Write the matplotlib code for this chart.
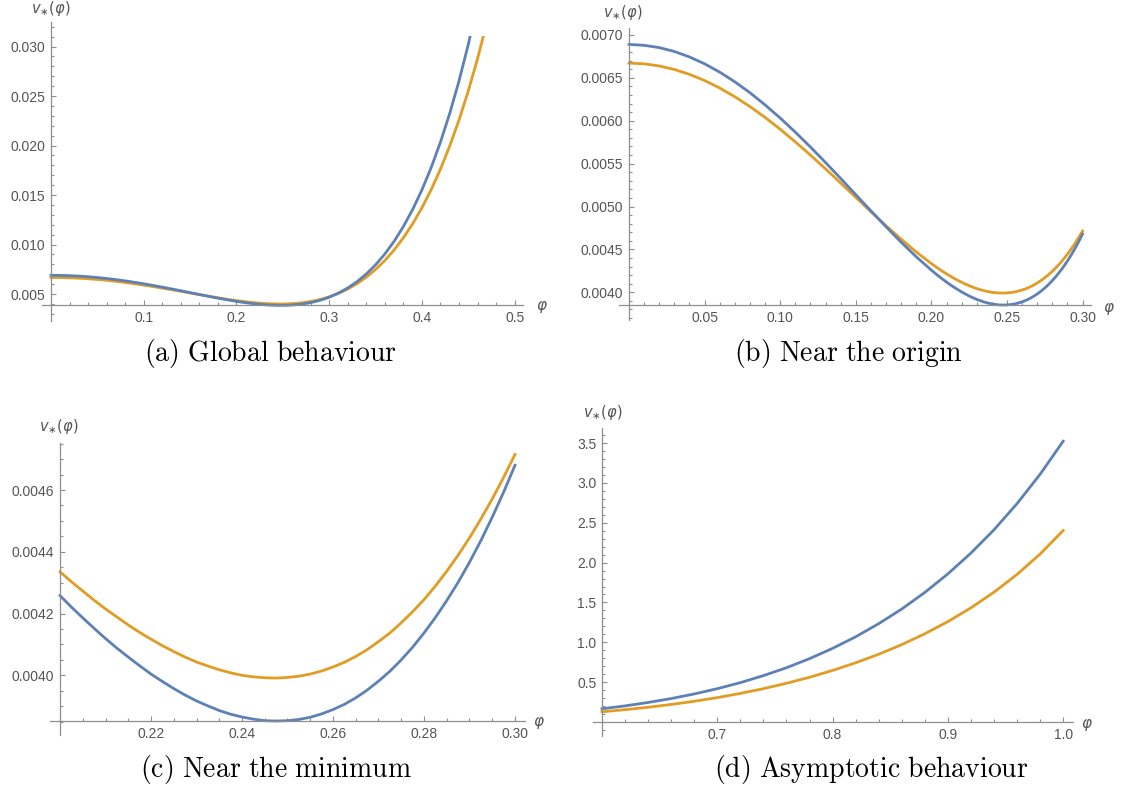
import numpy as np
import matplotlib
matplotlib.use('Agg')
import matplotlib.pyplot as plt
from matplotlib.ticker import MultipleLocator, FixedLocator, FixedFormatter
from matplotlib.patches import Rectangle

plt.rcParams['font.family'] = ['Liberation Sans', 'DejaVu Sans']

# ---------------- data ----------------
phi_main = [0.00, 0.01, 0.02, 0.03, 0.04, 0.05, 0.06, 0.07, 0.08, 0.09,
            0.10, 0.11, 0.12, 0.13, 0.14, 0.15, 0.16, 0.17, 0.18, 0.19,
            0.2000, 0.2025, 0.2050, 0.2075, 0.2100, 0.2125, 0.2150, 0.2175, 0.2200, 0.2225,
            0.2250, 0.2275, 0.2300, 0.2325, 0.2350, 0.2375, 0.2400, 0.2425, 0.2450, 0.2475,
            0.2500, 0.2525, 0.2550, 0.2575, 0.2600, 0.2625, 0.2650, 0.2675, 0.2700, 0.2725,
            0.2750, 0.2775, 0.2800, 0.2825, 0.2850, 0.2875, 0.2900, 0.2925, 0.2950, 0.2975,
            0.30, 0.31, 0.32, 0.33, 0.34, 0.35, 0.36, 0.37, 0.38, 0.39,
            0.40, 0.41, 0.42, 0.43, 0.44, 0.45, 0.46, 0.47]

# v_*(phi) in units of 1e-6
blue_main_e6 = [6890, 6880, 6853, 6808, 6744, 6664, 6567, 6454, 6327, 6185,
                6032, 5867, 5694, 5513, 5327, 5138, 4950, 4764, 4584, 4414,
                4258, 4221, 4186, 4152, 4119, 4088, 4059, 4031, 4004, 3980,
                3957, 3936, 3917, 3901, 3886, 3874, 3865, 3858, 3853, 3852,
                3853, 3857, 3864, 3875, 3889, 3906, 3927, 3952, 3981, 4013,
                4050, 4091, 4137, 4187, 4242, 4301, 4366, 4436, 4512, 4593,
                4680, 5089, 5606, 6244, 7018, 7943, 9038, 10321, 11813, 13536,
                15514, 17773, 20341, 23248, 26527, 30211, 34340, 38951]
orange_main_e6 = [6672, 6664, 6639, 6598, 6541, 6469, 6382, 6280, 6166, 6039,
                  5901, 5754, 5600, 5439, 5274, 5107, 4940, 4776, 4619, 4470,
                  4335, 4303, 4273, 4243, 4215, 4189, 4163, 4139, 4117, 4096,
                  4077, 4059, 4043, 4030, 4018, 4008, 4000, 3995, 3992, 3991,
                  3993, 3997, 4004, 4014, 4027, 4042, 4061, 4083, 4109, 4137,
                  4170, 4206, 4245, 4289, 4337, 4389, 4445, 4506, 4571, 4641,
                  4715, 5066, 5505, 6045, 6697, 7472, 8384, 9448, 10678, 12092,
                  13706, 15541, 17616, 19953, 22576, 25508, 28775, 32407]

phi_tail = [0.60, 0.62, 0.64, 0.66, 0.68, 0.70, 0.72, 0.74, 0.76, 0.78, 0.80,
            0.82, 0.84, 0.86, 0.88, 0.90, 0.92, 0.94, 0.96, 0.98, 1.00]
blue_tail = [0.166, 0.202, 0.245, 0.294, 0.352, 0.418, 0.494, 0.582, 0.681, 0.795, 0.924,
             1.069, 1.234, 1.418, 1.626, 1.859, 2.120, 2.412, 2.741, 3.109, 3.523]
orange_tail = [0.128, 0.155, 0.185, 0.220, 0.260, 0.306, 0.359, 0.418, 0.486, 0.561, 0.647,
               0.743, 0.850, 0.971, 1.107, 1.260, 1.433, 1.629, 1.852, 2.108, 2.403]

captions = ['(a) Global behaviour', '(b) Near the origin', '(c) Near the minimum', '(d) Asymptotic behaviour']

xt_a = [0.1, 0.2, 0.3, 0.4, 0.5]; xl_a = ['0.1', '0.2', '0.3', '0.4', '0.5']
yt_a = [0.005, 0.010, 0.015, 0.020, 0.025, 0.030]; yl_a = ['0.005', '0.010', '0.015', '0.020', '0.025', '0.030']
xt_b = [0.05, 0.10, 0.15, 0.20, 0.25, 0.30]; xl_b = ['0.05', '0.10', '0.15', '0.20', '0.25', '0.30']
yt_b = [0.0040, 0.0045, 0.0050, 0.0055, 0.0060, 0.0065, 0.0070]
yl_b = ['0.0040', '0.0045', '0.0050', '0.0055', '0.0060', '0.0065', '0.0070']
xt_c = [0.22, 0.24, 0.26, 0.28, 0.30]; xl_c = ['0.22', '0.24', '0.26', '0.28', '0.30']
yt_c = [0.0040, 0.0042, 0.0044, 0.0046]; yl_c = ['0.0040', '0.0042', '0.0044', '0.0046']
xt_d = [0.7, 0.8, 0.9, 1.0]; xl_d = ['0.7', '0.8', '0.9', '1.0']
yt_d = [0.5, 1.0, 1.5, 2.0, 2.5, 3.0, 3.5]; yl_d = ['0.5', '1.0', '1.5', '2.0', '2.5', '3.0', '3.5']

# ---------------- style ----------------
BLUE = '#5E81B5'
ORANGE = '#E19C24'
AXC = '#8f8f8f'
TXC = '#555555'

x = np.array(phi_main)
vb = np.array(blue_main_e6) * 1e-6
vo = np.array(orange_main_e6) * 1e-6

fig = plt.figure(figsize=(11.26, 7.92), dpi=100)
W, H = 1126, 792


def make_ax(l, r, t, b, xlim, ylim, xsp, ysp):
    ax = fig.add_axes([l / W, (H - b) / H, (r - l) / W, (b - t) / H])
    ax.set_xlim(*xlim); ax.set_ylim(*ylim)
    for s in ['top', 'right']:
        ax.spines[s].set_visible(False)
    ax.spines['left'].set_position(('data', xsp))
    ax.spines['bottom'].set_position(('data', ysp))
    for s in ['left', 'bottom']:
        ax.spines[s].set_color(AXC); ax.spines[s].set_linewidth(0.9)
    ax.tick_params(which='both', direction='in', color=AXC, labelcolor=TXC, labelsize=10, width=0.8)
    ax.tick_params(which='major', length=3.5, pad=4)
    ax.tick_params(which='minor', length=2)
    ax.patch.set_visible(False)
    return ax


axa = make_ax(42, 523, 22, 321, (-0.0097, 0.509), (0.002273, 0.032475), 0, 0.00385)
axb = make_ax(619, 1091, 28, 320, (-0.00661, 0.30556), (0.0036771, 0.0070816), 0, 0.003852)
axc = make_ax(50, 525, 443, 735, (0.1978, 0.3022), (0.0038067, 0.0047522), 0.2, 0.003852)
axd = make_ax(593, 1073, 428, 736, (0.59219, 1.0085), (-0.1757, 3.689), 0.6, 0.0)

for ax, lo, hi, ytop in [(axa, 0, 0.47, 0.0311), (axb, 0, 0.30, 1), (axc, 0.2, 0.30, 1)]:
    m = (x >= lo - 1e-9) & (x <= hi + 1e-9)
    for v, col in [(vo, ORANGE), (vb, BLUE)]:
        ln, = ax.plot(x[m], v[m], color=col, lw=2)
        ln.set_clip_path(Rectangle((-1, -1), 3, ytop + 1, transform=ax.transData))
for v, col in [(orange_tail, ORANGE), (blue_tail, BLUE)]:
    axd.plot(phi_tail, v, color=col, lw=2)


def ticks(ax, xt, xl, yt, yl, xmin, ymin):
    ax.xaxis.set_major_locator(FixedLocator(xt)); ax.xaxis.set_major_formatter(FixedFormatter(xl))
    ax.yaxis.set_major_locator(FixedLocator(yt)); ax.yaxis.set_major_formatter(FixedFormatter(yl))
    ax.xaxis.set_minor_locator(MultipleLocator(xmin)); ax.yaxis.set_minor_locator(MultipleLocator(ymin))


ticks(axa, xt_a, xl_a, yt_a, yl_a, 0.02, 0.001)
ticks(axb, xt_b, xl_b, yt_b, yl_b, 0.01, 0.0001)
ticks(axc, xt_c, xl_c, yt_c, yl_c, 0.005, 0.00005)
ticks(axd, xt_d, xl_d, yt_d, yl_d, 0.02, 0.1)

for (vx, vy), (px, py) in [((51, 8), (542, 307)), ((623, 13), (1109, 309)),
                           ((59, 427), (539, 723)), ((603, 412), (1087, 725))]:
    fig.text(vx / W, 1 - vy / H, r'$v_{\ast}(\varphi)$', ha='center', va='center', color=TXC, fontsize=10.5)
    fig.text(px / W, 1 - py / H, r'$\varphi$', ha='center', va='center', color=TXC, fontsize=11)

for (cx, cy), s in zip([(270, 353), (848, 353), (276, 770), (871, 770)], captions):
    fig.text(cx / W, 1 - cy / H, r'$\mathrm{' + s.replace(' ', r'\ ') + '}$', ha='center', va='center',
             fontsize=20, math_fontfamily='cm', color='black')

fig.savefig('out.png', dpi=100)
